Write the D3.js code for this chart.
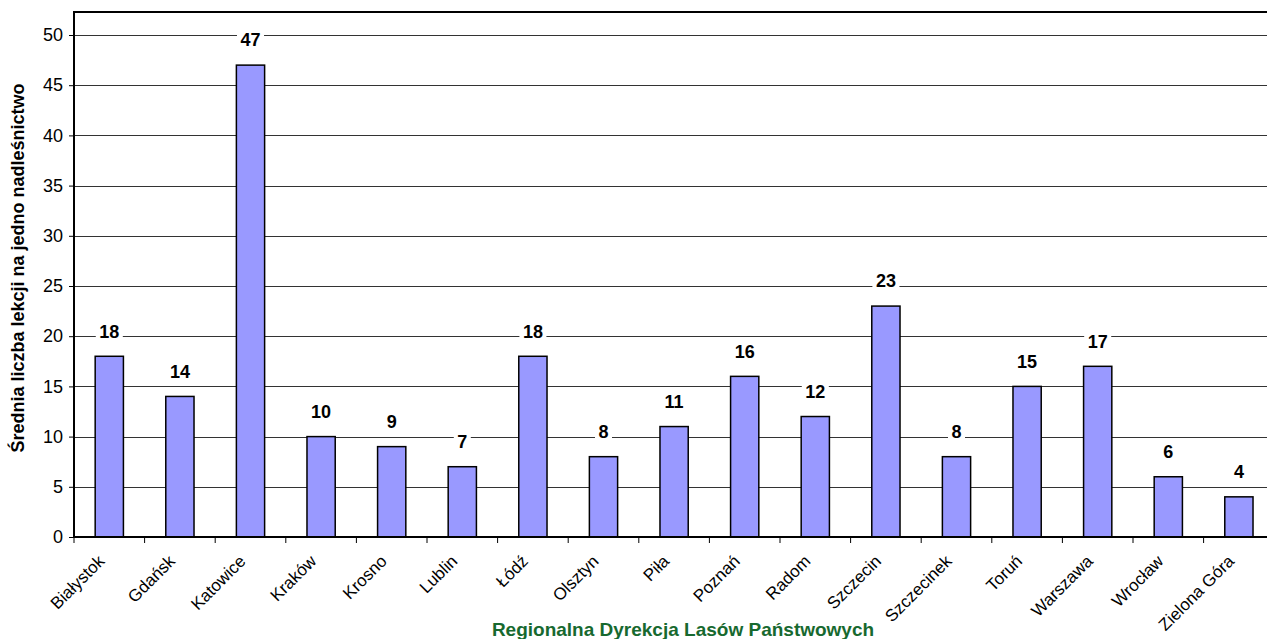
<!DOCTYPE html>
<html>
<head>
<meta charset="utf-8">
<script src="https://cdn.jsdelivr.net/npm/d3@7"></script>
<style>
  html, body { margin: 0; padding: 0; background: #fff; }
  svg { display: block; font-family: "Liberation Sans", Arial, sans-serif; }
</style>
</head>
<body>
<svg id="chart" width="1267" height="639"></svg>
<script>
const categories = ["Białystok","Gdańsk","Katowice","Kraków","Krosno","Lublin","Łódź","Olsztyn","Piła","Poznań","Radom","Szczecin","Szczecinek","Toruń","Warszawa","Wrocław","Zielona Góra"];
const values = [18,14,47,10,9,7,18,8,11,16,12,23,8,15,17,6,4];
const yTicks = [0,5,10,15,20,25,30,35,40,45,50];
const yTitle = "Średnia liczba lekcji na jedno nadleśnictwo";
const xTitle = "Regionalna Dyrekcja Lasów Państwowych";

const svg = d3.select("#chart");
const left = 74, bottom = 537, top50 = 35, frameTop = 12;
const step = 70.6;
const right = left + step * categories.length;

const x = d3.scaleBand().domain(categories).range([left, right]).paddingInner(0.6).paddingOuter(0.3);
const y = d3.scaleLinear().domain([0, 50]).range([bottom, top50]);

// gridlines
svg.append("g").selectAll("line").data(yTicks.filter(d => d > 0)).join("line")
  .attr("x1", left).attr("x2", 1267)
  .attr("y1", d => Math.round(y(d)) + 0.5).attr("y2", d => Math.round(y(d)) + 0.5)
  .attr("stroke", "#333").attr("stroke-width", 1);

// frame top
svg.append("line").attr("x1", left).attr("x2", 1267).attr("y1", frameTop).attr("y2", frameTop)
  .attr("stroke", "#000").attr("stroke-width", 2);

// bars
svg.append("g").selectAll("rect").data(values).join("rect")
  .attr("x", (d, i) => x(categories[i]))
  .attr("width", x.bandwidth())
  .attr("y", d => y(d))
  .attr("height", d => bottom - y(d))
  .attr("fill", "#9999ff").attr("stroke", "#000").attr("stroke-width", 1.5);

// data labels
const lab = svg.append("g").selectAll("g").data(values).join("g")
  .attr("transform", (d, i) => `translate(${x(categories[i]) + x.bandwidth() / 2},${y(d) - 25})`);
const labRect = lab.append("rect").attr("fill", "#fff");
const labText = lab.append("text").text(d => d)
  .attr("text-anchor", "middle").attr("dy", "0.35em")
  .attr("font-size", 18).attr("font-weight", "bold").attr("fill", "#000");
labText.each(function () {
  const w = this.getComputedTextLength();
  d3.select(this.previousSibling).attr("x", -w / 2 - 3.5).attr("width", w + 7).attr("y", -9).attr("height", 18);
});

// y axis
const yAxis = d3.axisLeft(y).tickValues(yTicks).tickSize(5).tickPadding(6).tickFormat(d3.format("d"));
const gy = svg.append("g").attr("transform", `translate(${left},0)`).call(yAxis);
gy.select(".domain").remove();
gy.selectAll(".tick line").attr("stroke", "#000");
gy.selectAll(".tick text").attr("font-size", 18).attr("font-family", "Liberation Sans, Arial, sans-serif").attr("fill", "#000");
svg.append("line").attr("x1", left).attr("x2", left).attr("y1", frameTop - 1).attr("y2", bottom + 1)
  .attr("stroke", "#000").attr("stroke-width", 2);

// x axis with ticks at category boundaries
const boundaries = d3.range(categories.length + 1).map(i => left + i * step);
svg.append("g").selectAll("line").data(boundaries).join("line")
  .attr("x1", d => d).attr("x2", d => d).attr("y1", bottom).attr("y2", bottom + 6)
  .attr("stroke", "#000").attr("stroke-width", 1);
svg.append("line").attr("x1", left - 1).attr("x2", 1267).attr("y1", bottom).attr("y2", bottom)
  .attr("stroke", "#000").attr("stroke-width", 2);

svg.append("g").selectAll("text").data(categories).join("text")
  .attr("transform", d => `translate(${x(d) + x.bandwidth() / 2 - 8},${558}) rotate(-45)`)
  .attr("text-anchor", "end").attr("dy", "0.35em")
  .attr("font-size", 17).attr("fill", "#000").text(d => d);

// axis titles
svg.append("text").attr("transform", `translate(24,268) rotate(-90)`)
  .attr("text-anchor", "middle").attr("font-size", 18).attr("font-weight", "bold").attr("fill", "#000")
  .text(yTitle);
svg.append("text").attr("x", 683).attr("y", 636)
  .attr("text-anchor", "middle").attr("font-size", 19).attr("font-weight", "bold").attr("fill", "#17692f")
  .text(xTitle);
</script>
</body>
</html>
